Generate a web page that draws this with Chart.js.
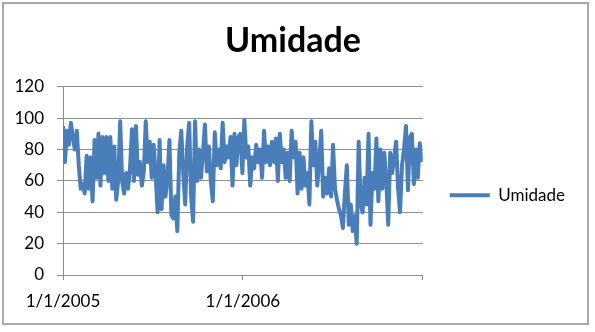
<!DOCTYPE html>
<html>
<head>
<meta charset="utf-8">
<script src="https://cdn.jsdelivr.net/npm/chart.js@4.4.1/dist/chart.umd.min.js"></script>
<style>
  html, body { margin: 0; padding: 0; background: #fff; }
  #wrap { position: relative; width: 595px; height: 332px; }
  #frame { position: absolute; left: 2px; top: 2px; width: 583px; height: 319px;
           border: 2px solid #a9a9a9; pointer-events: none; }
</style>
</head>
<body>
<div id="wrap">
  <canvas id="chart0" width="595" height="332"></canvas>
  <div id="frame"></div>
</div>
<script>
// daily humidity, every 4th day from 1/1/2005
const dayStep = 4;
const umidade = [
  95, 72, 92, 83, 97, 88, 80, 92, 70, 55, 58, 52, 76, 55, 75, 47, 86, 62, 90, 57,
  88, 65, 88, 60, 88, 55, 82, 48, 60,
  98, 60, 52, 65, 55, 68, 93, 60, 95, 64, 72, 57, 66, 98, 72, 85, 62, 83, 64, 40,
  86, 42, 70, 50, 62, 86, 38, 36, 50, 28, 78,
  92, 65, 45, 82, 97, 50, 34, 98, 60, 80, 62, 78, 96, 66, 82, 60, 47, 91, 70, 80,
  68, 97, 72, 82, 75, 88, 57, 90, 70, 88,
  90, 65, 99, 75, 82, 57, 75, 68, 83, 72, 80, 62, 92, 72, 82, 70, 85, 72, 87, 60,
  90, 72, 80, 62, 78, 60, 92, 75, 85, 52,
  78, 55, 75, 57, 65, 45, 98, 70, 85, 57, 72, 92, 50, 62, 52, 68, 50, 83, 55, 48,
  42, 38, 30, 52, 70, 32, 45, 28, 38, 20, 85,
  45, 40, 62, 45, 90, 32, 65, 55, 87, 47, 80, 55, 78, 60, 32, 78, 65, 75, 85, 55,
  40, 70, 80, 95, 54, 88, 90, 58, 80, 62, 84, 72
];
const xTickLabels = ['1/1/2005', '1/1/2006', ''];
const xMax = 730;      // days up to 1/1/2007
const xStep = 365;
const yMin = 0, yMax = 120, yStep = 20;

const lineColor = '#4a7ebb';
const gridColor = '#8c8c8c';
const tickFont = { family: 'Lato', size: 17 };

Promise.all([
  document.fonts.load('17px Lato'),
  document.fonts.load('bold 34px Lato')
]).catch(() => {}).then(makeChart);

function makeChart() {
  let ctx = document.getElementById('chart0').getContext('2d');
  return new Chart(ctx, {
    type: 'line',
    data: {
      datasets: [{
        label: 'Umidade',
        data: umidade.map((v, i) => ({ x: i * dayStep, y: v })),
        borderColor: lineColor,
        backgroundColor: lineColor,
        borderWidth: 4,
        borderJoinStyle: 'round',
        pointRadius: 0,
        tension: 0,
        fill: false
      }]
    },
    options: {
      responsive: false,
      animation: false,
      layout: { padding: { left: 11, right: 20, top: 0, bottom: 0 } },
      plugins: {
        title: {
          display: true,
          text: 'Umidade',
          color: '#000',
          font: { family: 'Lato', size: 34, weight: 'bold' },
          padding: { top: 21, bottom: 25 }
        },
        legend: {
          position: 'right',
          maxWidth: 200,
          // empty title only pushes the entry down to where the original has it
          title: { display: true, text: '', padding: { top: 44, bottom: 0 } },
          labels: {
            usePointStyle: true,
            pointStyle: 'line',
            pointStyleWidth: 40,
            padding: 27,
            color: '#000',
            font: tickFont
          }
        },
        tooltip: { enabled: false }
      },
      scales: {
        x: {
          type: 'linear',
          min: 0,
          max: xMax,
          afterFit: s => { s.height = 57; },
          grid: { drawOnChartArea: false, tickLength: 5, color: gridColor, lineWidth: 1 },
          border: { color: gridColor, width: 1 },
          ticks: {
            stepSize: xStep,
            autoSkip: false,
            maxRotation: 0,
            padding: 11,
            color: '#000',
            font: tickFont,
            callback: value => xTickLabels[Math.round(value / xStep)]
          }
        },
        y: {
          min: yMin,
          max: yMax,
          afterFit: s => { s.width = 52; },
          grid: { color: gridColor, tickLength: 6, lineWidth: 1 },
          border: { color: gridColor, width: 1 },
          ticks: { stepSize: yStep, padding: 13, color: '#000', font: tickFont }
        }
      }
    }
  });
}
</script>
</body>
</html>
